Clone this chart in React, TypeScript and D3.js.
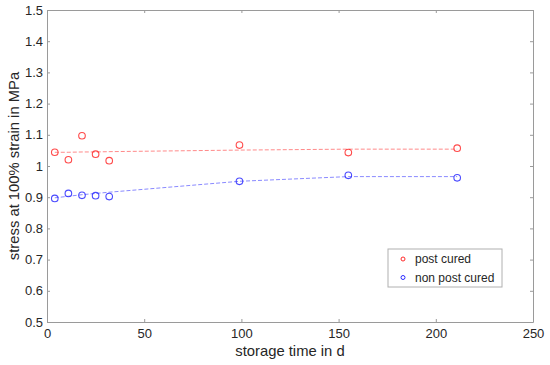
import { useEffect, useRef } from 'react';
import * as d3 from 'd3';

// storage time in days
const days = [4, 11, 18, 25, 32, 99, 155, 211];
const postCured = [1.044, 1.02, 1.097, 1.038, 1.017, 1.067, 1.043, 1.057];
const nonPostCured = [0.896, 0.912, 0.906, 0.905, 0.902, 0.951, 0.97, 0.962];
// fitted trend lines (dashed)
const postCuredFit = [1.044, 1.044, 1.045, 1.045, 1.046, 1.051, 1.054, 1.054];
const nonPostCuredFit = [0.898, 0.903, 0.908, 0.912, 0.916, 0.951, 0.966, 0.966];

const xTicks = [0, 50, 100, 150, 200, 250];
const yTicks = [0.5, 0.6, 0.7, 0.8, 0.9, 1, 1.1, 1.2, 1.3, 1.4, 1.5];
const legendLabels = ['post cured', 'non post cured'];

const App = () => {
  const svgRef = useRef<SVGSVGElement>(null);

  useEffect(() => {
    const width = 550;
    const height = 365;
    const margin = { top: 10, right: 17, bottom: 43, left: 47 };
    const font = 'Liberation Sans, Arial, sans-serif';
    const textColor = '#262626';
    const axisColor = '#9a9a9a';

    const svg = d3.select(svgRef.current);
    svg.selectAll('*').remove();
    svg.attr('width', width).attr('height', height);

    const x = d3.scaleLinear().domain([0, 250]).range([margin.left, width - margin.right]);
    const y = d3.scaleLinear().domain([0.5, 1.5]).range([height - margin.bottom, margin.top]);

    svg.append('rect')
      .attr('width', width).attr('height', height).attr('fill', 'white');

    // axes with inward ticks, box on
    const styleAxis = (g: any) => {
      g.select('.domain').attr('stroke', axisColor);
      g.selectAll('.tick line').attr('stroke', axisColor);
      g.selectAll('.tick text').attr('fill', textColor).attr('font-size', 13).attr('font-family', font);
    };

    svg.append('g')
      .attr('transform', `translate(0,${y.range()[0]})`)
      .call(d3.axisBottom(x).tickValues(xTicks).tickSizeInner(-3).tickSizeOuter(0).tickPadding(7).tickFormat(d3.format('d')))
      .call(styleAxis);

    svg.append('g')
      .attr('transform', `translate(0,${y.range()[1]})`)
      .call(d3.axisTop(x).tickValues(xTicks).tickSizeInner(-3).tickSizeOuter(0).tickFormat(() => ''))
      .call(styleAxis);

    svg.append('g')
      .attr('transform', `translate(${x.range()[0]},0)`)
      .call(d3.axisLeft(y).tickValues(yTicks).tickSizeInner(-3).tickSizeOuter(0).tickPadding(4).tickFormat(d => `${+d}`))
      .call(styleAxis);

    svg.append('g')
      .attr('transform', `translate(${x.range()[1]},0)`)
      .call(d3.axisRight(y).tickValues(yTicks).tickSizeInner(-3).tickSizeOuter(0).tickFormat(() => ''))
      .call(styleAxis);

    const series = [
      { values: postCured, fit: postCuredFit, color: '#ff2a2a' },
      { values: nonPostCured, fit: nonPostCuredFit, color: '#2a2aff' },
    ];

    const line = d3.line<number>()
      .x((_, i) => x(days[i]))
      .y(d => y(d));

    series.forEach(s => {
      svg.append('path')
        .datum(s.fit)
        .attr('fill', 'none')
        .attr('stroke', s.color)
        .attr('stroke-opacity', 0.55)
        .attr('stroke-width', 1)
        .attr('stroke-dasharray', '4,2')
        .attr('d', line);

      svg.append('g')
        .selectAll('circle')
        .data(s.values)
        .join('circle')
        .attr('cx', (_, i) => x(days[i]))
        .attr('cy', d => y(d))
        .attr('r', 3.3)
        .attr('fill', 'none')
        .attr('stroke', s.color)
        .attr('stroke-opacity', 0.85)
        .attr('stroke-width', 1.1);
    });

    // axis labels
    svg.append('text')
      .attr('x', (x.range()[0] + x.range()[1]) / 2)
      .attr('y', 356)
      .attr('text-anchor', 'middle')
      .attr('fill', textColor)
      .attr('font-size', 14.8)
      .attr('font-family', font)
      .text('storage time in d');

    svg.append('text')
      .attr('transform', `translate(19,${(y.range()[0] + y.range()[1]) / 2}) rotate(-90)`)
      .attr('text-anchor', 'middle')
      .attr('fill', textColor)
      .attr('font-size', 14.8)
      .attr('font-family', font)
      .text('stress at 100% strain in MPa');

    // legend
    const legend = svg.append('g').attr('transform', 'translate(388,249)');
    legend.append('rect')
      .attr('width', 114).attr('height', 38)
      .attr('fill', 'white').attr('stroke', '#b0b0b0').attr('stroke-width', 1);

    legendLabels.forEach((label, i) => {
      const row = legend.append('g').attr('transform', `translate(0,${10 + i * 18.5})`);
      row.append('circle')
        .attr('cx', 15).attr('cy', 0).attr('r', 2)
        .attr('fill', 'none').attr('stroke', series[i].color).attr('stroke-width', 1);
      row.append('text')
        .attr('x', 27).attr('y', 4)
        .attr('fill', textColor)
        .attr('font-size', 12)
        .attr('font-family', font)
        .text(label);
    });
  }, []);

  return (
    <svg ref={svgRef} style={{ position: 'absolute', left: 0, top: 0 }}></svg>
  );
};

export default App;
